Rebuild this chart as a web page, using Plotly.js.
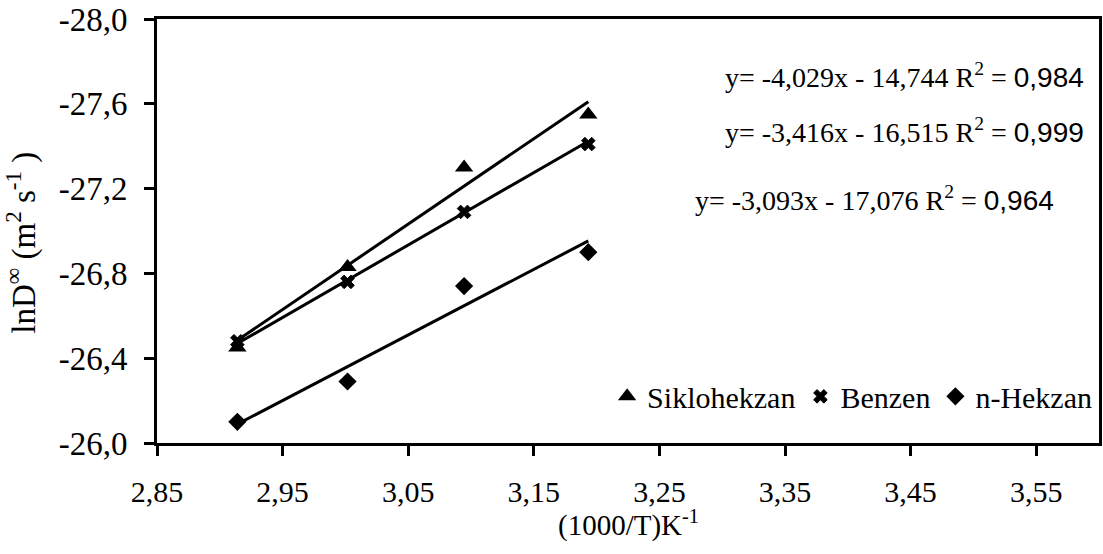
<!DOCTYPE html>
<html>
<head>
<meta charset="utf-8">
<script src="https://cdn.plot.ly/plotly-3.0.1.min.js"></script>
<style>
  html, body { margin: 0; padding: 0; background: #fff; }
  #chart { width: 1103px; height: 554px; }
</style>
</head>
<body>
<div id="chart"></div>
<script>
// Inverse temperature, 1000/T (K^-1)
const invT = [2.914, 3.0017, 3.0945, 3.1934];

// ln D∞ values for each solvent
const siklohekzan = [-26.45, -26.83, -27.30, -27.55];
const benzen      = [-26.48, -26.76, -27.09, -27.41];
const nHekzan     = [-26.10, -26.29, -26.74, -26.90];

const seriesNames = ['Siklohekzan', 'Benzen', 'n-Hekzan'];
const seriesSymbols = ['triangle-up', 'x', 'diamond'];
const seriesSizes = [16, 12, 14];

// Linear fit coefficients: y = slope*x + intercept
const slopes     = [-4.029, -3.416, -3.093];
const intercepts = [-14.744, -16.515, -17.076];
const r2         = [0.984, 0.999, 0.964];

const xTicks = [2.85, 2.95, 3.05, 3.15, 3.25, 3.35, 3.45, 3.55];
const yTicks = [-28.0, -27.6, -27.2, -26.8, -26.4, -26.0];

const xTitle = '(1000/T)K<sup>-1</sup>';
const yTitle = 'lnD<sup>∞</sup> (m<sup>2</sup> s<sup>-1</sup> )';

const allY = [siklohekzan, benzen, nHekzan];
const serif = 'Liberation Serif, Times New Roman, serif';

// decimal comma, plain hyphen for the sign
const fmt = (v, d) => v.toFixed(d).replace('.', ',');

const traces = [];
// fitted lines
allY.forEach((_, i) => {
  const xs = [invT[0], invT[invT.length - 1]];
  traces.push({
    x: xs,
    y: xs.map(v => slopes[i] * v + intercepts[i]),
    mode: 'lines',
    line: { color: '#000', width: 3 },
    showlegend: false,
    hoverinfo: 'skip'
  });
});
// measured points
allY.forEach((ys, i) => {
  traces.push({
    x: invT,
    y: ys,
    name: seriesNames[i],
    mode: 'markers',
    marker: {
      symbol: seriesSymbols[i],
      size: seriesSizes[i],
      color: '#000',
      line: { color: '#000', width: i === 1 ? 1 : 0 }
    }
  });
});

// equation labels
const eqY = [-27.735, -27.475, -27.155];
const eqX = [3.59, 3.59, 3.566];
const annotations = slopes.map((s, i) => ({
  x: eqX[i], y: eqY[i], xref: 'x', yref: 'y',
  xanchor: 'right', yanchor: 'middle', showarrow: false,
  text: 'y= ' + fmt(s, 3) + 'x - ' + fmt(-intercepts[i], 3) +
        ' R<sup>2</sup> = <span style="font-family:Liberation Sans">' + fmt(r2[i], 3) + '</span>',
  font: { family: serif, size: 28, color: '#000' }
}));

// axis titles
annotations.push({
  x: 0.5, y: -0.19, xref: 'paper', yref: 'paper',
  xanchor: 'center', yanchor: 'middle', showarrow: false,
  text: xTitle, font: { family: serif, size: 29, color: '#000' }
});
annotations.push({
  x: -0.1435, y: 0.472, xref: 'paper', yref: 'paper', textangle: -90,
  xanchor: 'center', yanchor: 'middle', showarrow: false,
  text: yTitle, font: { family: serif, size: 33, color: '#000' }
});

const axisCommon = {
  showline: true, linecolor: '#000', linewidth: 3, mirror: true,
  ticks: 'outside', ticklen: 10, tickwidth: 3, tickcolor: '#000',
  showgrid: false, zeroline: false
};

const layout = {
  width: 1103, height: 554,
  margin: { l: 157, r: 4, t: 19, b: 111 },
  paper_bgcolor: '#fff', plot_bgcolor: '#fff',
  showlegend: true,
  legend: {
    orientation: 'h', x: 0.998, xanchor: 'right', y: 0.11, yanchor: 'middle',
    font: { family: serif, size: 30, color: '#000' },
    itemwidth: 30, bgcolor: 'rgba(0,0,0,0)', traceorder: 'normal'
  },
  xaxis: Object.assign({}, axisCommon, {
    range: [2.85, 3.6],
    tickvals: xTicks, ticktext: xTicks.map(v => fmt(v, 2)),
    tickfont: { family: serif, size: 30, color: '#000' },
    ticklabelstandoff: 10
  }),
  yaxis: Object.assign({}, axisCommon, {
    range: [-26.0, -28.0],
    tickvals: yTicks, ticktext: yTicks.map(v => fmt(v, 1)),
    tickfont: { family: serif, size: 33, color: '#000' },
    ticklabelstandoff: 10
  }),
  annotations: annotations
};

Plotly.newPlot('chart', traces, layout, { displayModeBar: false, staticPlot: true });
</script>
</body>
</html>
